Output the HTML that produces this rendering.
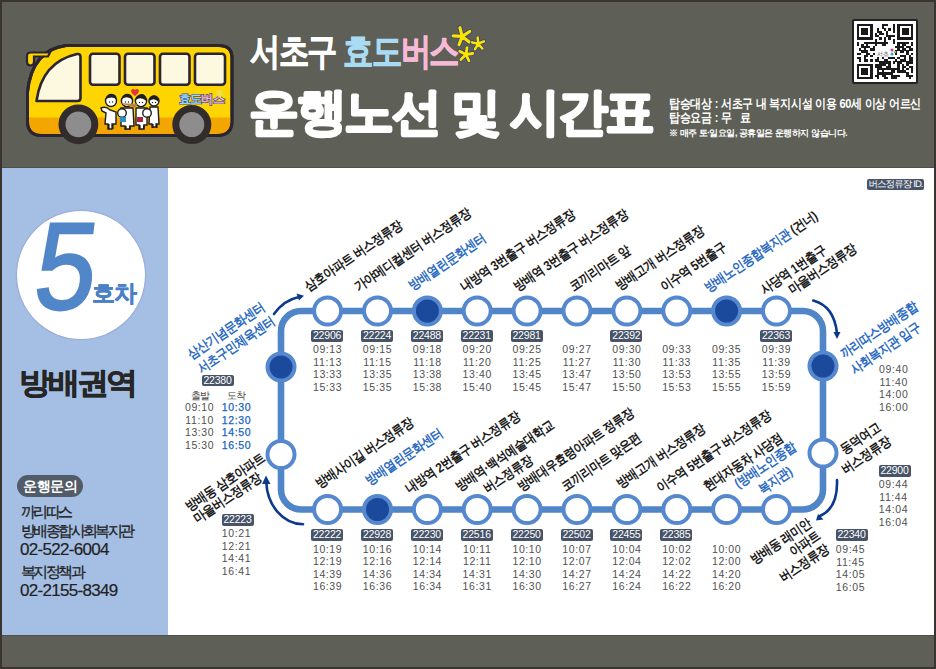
<!DOCTYPE html>
<html><head><meta charset="utf-8">
<style>
html,body{margin:0;padding:0;}
body{width:936px;height:669px;position:relative;overflow:hidden;background:#3a3431;font-family:"Liberation Sans",sans-serif;}
.abs{position:absolute;}
#hdr{position:absolute;left:2px;top:2px;width:932px;height:166px;background:#5e5f57;}
#ftr{position:absolute;left:2px;top:635px;width:932px;height:32px;background:#5e5f57;}
#side{position:absolute;left:2px;top:168px;width:166px;height:467px;background:#a5bfe4;}
#main{position:absolute;left:168px;top:168px;width:766px;height:467px;background:#fff;}
.id{position:absolute;width:32px;height:11.5px;background:#475468;color:#fff;font-size:10.5px;line-height:11.5px;text-align:center;border-radius:2px;letter-spacing:-0.2px;}
.t{position:absolute;width:50px;text-align:center;color:#505050;font-size:10.5px;line-height:12.5px;letter-spacing:0.6px;}
.lbl{position:absolute;white-space:nowrap;color:#1c1c1c;font-size:13.5px;line-height:14px;transform-origin:0 100%;transform:rotate(-34deg) scaleX(0.86);letter-spacing:-0.5px;font-weight:bold;text-rendering:geometricPrecision;}
.b{color:#2c6bc2;}
.k{font-size:15px;line-height:20px;color:#222;white-space:nowrap;-webkit-text-stroke:0.3px #222;}
.n{font-size:17px;line-height:20px;color:#222;white-space:nowrap;letter-spacing:-0.7px;-webkit-text-stroke:0.2px #222;}
</style></head><body>
<div id="hdr"></div>
<div class="abs" style="left:2px;top:166.5px;width:932px;height:1.5px;background:#4f5049"></div>
<svg class="abs" style="left:0;top:0" width="260" height="168" viewBox="0 0 260 168"><path d="M66 45.5 L219 45.5 Q232 45.5 232 58 L232 121 Q232 135.5 217 135.5 L42 135.5 Q27.5 135.5 27.5 121 L27.5 92 Q32 50 66 45.5 Z" fill="#fed500" stroke="#2a2530" stroke-width="3"/>
<path d="M29 117.5 L230.5 117.5 L230.5 121 Q230.5 134 217 134 L42 134 Q29 134 29 121 Z" fill="#f3a600"/>
<path d="M66 45.5 L219 45.5 Q232 45.5 232 58 L232 121 Q232 135.5 217 135.5 L42 135.5 Q27.5 135.5 27.5 121 L27.5 92 Q32 50 66 45.5 Z" fill="none" stroke="#2a2530" stroke-width="3"/>
<path d="M31 52.5 L50 52.5 L48 56.5 L34 56.5 L34 62 Q34 65.5 30.5 65.5 Q27 65.5 27 62 L27 56 Q27 52.5 31 52.5 Z" fill="#fed500" stroke="#2a2530" stroke-width="2.2"/>
<path d="M36.5 101 Q42 62 77 54 Q80.5 53.5 80.5 57 L80.5 98 Q80.5 101 77.5 101 Z" fill="#fdf8e0" stroke="#2a2530" stroke-width="2.6" stroke-linejoin="round"/>
<rect x="90" y="53.8" width="29.5" height="31" rx="3" fill="#fdf8e0" stroke="#2a2530" stroke-width="2.6"/>
<rect x="125" y="53.8" width="29.5" height="31" rx="3" fill="#fdf8e0" stroke="#2a2530" stroke-width="2.6"/>
<rect x="160" y="53.8" width="29.5" height="31" rx="3" fill="#fdf8e0" stroke="#2a2530" stroke-width="2.6"/>
<rect x="195" y="53.8" width="30" height="31" rx="3" fill="#fdf8e0" stroke="#2a2530" stroke-width="2.6"/>
<circle cx="78.4" cy="124.3" r="16.4" fill="#8d8d8d" stroke="#332c2c" stroke-width="7"/>
<circle cx="191.8" cy="124.6" r="16" fill="#8d8d8d" stroke="#332c2c" stroke-width="7"/>
<g stroke="#1e1e1e" stroke-width="1.4" fill="#fff">
<path d="M101 108 Q106 106 110 110 L116 112 L116 124 L112 124 L112 129 L108 129 L108 124 L105 124 L106 113 L102 111 Z"/>
<circle cx="111" cy="101" r="5.5"/>
<path d="M121 108 L133 108 L134 126 L130 126 L130 129 L125 129 L125 126 L121 126 Z"/>
<circle cx="127" cy="101" r="5.6"/>
<path d="M136 108 L147 108 L147 125 L144 125 L144 129 L139 129 L139 125 L136 125 Z" fill="#fff"/>
<circle cx="141" cy="101" r="5.6"/>
<path d="M150 107 L158 107 L159 124 L156 124 L156 127 L152 127 L152 124 L149 124 Z"/>
<circle cx="154" cy="101" r="5"/>
<circle cx="122" cy="113" r="4.3"/>
<circle cx="147" cy="113" r="4.3"/>
</g>
<path d="M120 117 L126 117 L126 122 L120 122 Z" fill="#2a8fd0"/>
<path d="M137 117 L143 117 L143 122 L137 122 Z" fill="#b02040"/>
<path d="M119 103 L136 108 L137 104 Z" fill="#c08040" stroke="none"/>
<g fill="#1e1e1e">
<path d="M105.5 99 Q107 93 113 94 Q117 95 116.5 99 Q112 96 105.5 99 Z"/>
<path d="M121.5 99 Q123 93 129 94 Q133 95 132.5 100 Q128 95 121.5 99 Z"/>
<path d="M135.5 100 Q137 93 143 94 Q147 96 146.5 101 Q141 96 135.5 100 Z"/>
<path d="M149.5 101 Q150 95 155 95.5 Q159 97 158.5 102 Q154 97 149.5 101 Z"/>
<rect x="108" y="124" width="1.6" height="5"/><rect x="112" y="124" width="1.6" height="5"/>
<rect x="125" y="126" width="1.6" height="4"/><rect x="129" y="126" width="1.6" height="4"/>
<rect x="139" y="125" width="1.6" height="4.5"/><rect x="143" y="125" width="1.6" height="4.5"/>
<rect x="152" y="124" width="1.6" height="4"/><rect x="156" y="124" width="1.6" height="4"/>
<circle cx="109.5" cy="102" r="0.7"/><circle cx="112.5" cy="102" r="0.7"/>
<circle cx="125.5" cy="102" r="0.7"/><circle cx="128.5" cy="102" r="0.7"/>
<circle cx="139.5" cy="102.5" r="0.7"/><circle cx="142.5" cy="102.5" r="0.7"/>
<circle cx="152.5" cy="102.5" r="0.7"/><circle cx="155.5" cy="102.5" r="0.7"/>
</g>
<path d="M131 90.5 Q133 88 135 90 Q137 88 139 90.5 Q139 93 135 96 Q131 93 131 90.5 Z" fill="#e8303a"/>
<text x="179" y="102.5" font-size="11.5" font-weight="bold" fill="#9ad6f5" stroke="#3a4a8a" stroke-width="1.4" paint-order="stroke" font-family="Liberation Sans" letter-spacing="-0.8">효도<tspan fill="#f5b0d4">버스</tspan></text>
<text x="216" y="97" font-size="10" fill="#f0e040" font-family="Liberation Sans" font-weight="bold">✱</text>
</svg>
<div class="abs" style="left:250px;top:29.5px;font-size:30px;line-height:36px;font-weight:bold;color:#fff;letter-spacing:-1.3px;white-space:nowrap;-webkit-text-stroke:0.6px #fff;transform:scaleY(1.22);transform-origin:0 0">서초구 <span style="color:#a9dcf4;-webkit-text-stroke:0.6px #a9dcf4">효도</span><span style="color:#f6b9d6;-webkit-text-stroke:0.6px #f6b9d6">버스</span></div>
<svg class="abs" style="left:0;top:0" width="500" height="80" viewBox="0 0 500 80"><path d="M462.2 36.4 L459.9 27.7 M462.2 36.4 L469.7 31.5 M462.2 36.4 L469.2 42.1 M462.2 36.4 L459.0 44.8 M462.2 36.4 L453.2 35.9 " stroke="#2a3a7a" stroke-width="4.4" stroke-linecap="round"/><path d="M462.2 36.4 L459.9 27.7 M462.2 36.4 L469.7 31.5 M462.2 36.4 L469.2 42.1 M462.2 36.4 L459.0 44.8 M462.2 36.4 L453.2 35.9 " stroke="#fde400" stroke-width="3.2" stroke-linecap="round"/><path d="M478.2 43.8 L477.7 37.6 M478.2 43.8 L483.9 41.4 M478.2 43.8 L482.3 48.5 M478.2 43.8 L475.0 49.1 M478.2 43.8 L472.2 42.4 " stroke="#2a3a7a" stroke-width="3.8" stroke-linecap="round"/><path d="M478.2 43.8 L477.7 37.6 M478.2 43.8 L483.9 41.4 M478.2 43.8 L482.3 48.5 M478.2 43.8 L475.0 49.1 M478.2 43.8 L472.2 42.4 " stroke="#fde400" stroke-width="2.6" stroke-linecap="round"/><path d="M465.9 54.5 L467.1 47.6 M465.9 54.5 L472.8 53.5 M465.9 54.5 L469.0 60.8 M465.9 54.5 L460.9 59.4 M465.9 54.5 L459.7 51.2 " stroke="#2a3a7a" stroke-width="4.0" stroke-linecap="round"/><path d="M465.9 54.5 L467.1 47.6 M465.9 54.5 L472.8 53.5 M465.9 54.5 L469.0 60.8 M465.9 54.5 L460.9 59.4 M465.9 54.5 L459.7 51.2 " stroke="#fde400" stroke-width="2.8" stroke-linecap="round"/></svg>
<svg class="abs" style="left:0;top:0" width="700" height="168" viewBox="0 0 700 168"><text x="249" y="129" font-family="Liberation Sans" font-size="50" font-weight="bold" fill="#fff" stroke="#fff" stroke-width="2.6" stroke-linejoin="round" letter-spacing="-2.4">운행노선 및 시간표</text></svg>
<div class="abs" style="left:669px;top:96.5px;font-size:13px;line-height:14.5px;font-weight:bold;color:#fff;white-space:nowrap;letter-spacing:-0.3px;transform:scaleX(0.845);transform-origin:0 0">탑승대상 : 서초구 내 복지시설 이용 60세 이상 어르신<br>탑승요금 : 무&nbsp;&nbsp; 료</div>
<div class="abs" style="left:669px;top:127px;font-size:9px;line-height:12px;color:#fff;white-space:nowrap;letter-spacing:-0.5px;font-weight:bold">※ 매주 토·일요일, 공휴일은 운행하지 않습니다.</div>
<div class="abs" style="left:852px;top:19px;width:66px;height:65px;background:#222;border-radius:2px"></div>
<svg class="abs" style="left:854px;top:21px" width="62" height="61" viewBox="0 0 62 61"><rect width="62" height="61" fill="#fff"/><g transform="translate(3,3) scale(2.24,2.2)" fill="#1a1a1a" shape-rendering="crispEdges"><rect x="0" y="0" width="7" height="1.06"/><rect x="11" y="0" width="3" height="1.06"/><rect x="16" y="0" width="1" height="1.06"/><rect x="18" y="0" width="7" height="1.06"/><rect x="0" y="1" width="1" height="1.06"/><rect x="6" y="1" width="1" height="1.06"/><rect x="11" y="1" width="1" height="1.06"/><rect x="16" y="1" width="1" height="1.06"/><rect x="18" y="1" width="1" height="1.06"/><rect x="24" y="1" width="1" height="1.06"/><rect x="0" y="2" width="1" height="1.06"/><rect x="2" y="2" width="3" height="1.06"/><rect x="6" y="2" width="1" height="1.06"/><rect x="9" y="2" width="1" height="1.06"/><rect x="12" y="2" width="1" height="1.06"/><rect x="14" y="2" width="1" height="1.06"/><rect x="16" y="2" width="1" height="1.06"/><rect x="18" y="2" width="1" height="1.06"/><rect x="20" y="2" width="3" height="1.06"/><rect x="24" y="2" width="1" height="1.06"/><rect x="0" y="3" width="1" height="1.06"/><rect x="2" y="3" width="3" height="1.06"/><rect x="6" y="3" width="1" height="1.06"/><rect x="9" y="3" width="2" height="1.06"/><rect x="13" y="3" width="1" height="1.06"/><rect x="16" y="3" width="1" height="1.06"/><rect x="18" y="3" width="1" height="1.06"/><rect x="20" y="3" width="3" height="1.06"/><rect x="24" y="3" width="1" height="1.06"/><rect x="0" y="4" width="1" height="1.06"/><rect x="2" y="4" width="3" height="1.06"/><rect x="6" y="4" width="1" height="1.06"/><rect x="8" y="4" width="1" height="1.06"/><rect x="10" y="4" width="2" height="1.06"/><rect x="13" y="4" width="1" height="1.06"/><rect x="18" y="4" width="1" height="1.06"/><rect x="20" y="4" width="3" height="1.06"/><rect x="24" y="4" width="1" height="1.06"/><rect x="0" y="5" width="1" height="1.06"/><rect x="6" y="5" width="1" height="1.06"/><rect x="8" y="5" width="2" height="1.06"/><rect x="13" y="5" width="4" height="1.06"/><rect x="18" y="5" width="1" height="1.06"/><rect x="24" y="5" width="1" height="1.06"/><rect x="0" y="6" width="7" height="1.06"/><rect x="10" y="6" width="1" height="1.06"/><rect x="12" y="6" width="1" height="1.06"/><rect x="14" y="6" width="1" height="1.06"/><rect x="18" y="6" width="7" height="1.06"/><rect x="8" y="7" width="1" height="1.06"/><rect x="12" y="7" width="1" height="1.06"/><rect x="16" y="7" width="1" height="1.06"/><rect x="0" y="8" width="1" height="1.06"/><rect x="3" y="8" width="11" height="1.06"/><rect x="16" y="8" width="1" height="1.06"/><rect x="18" y="8" width="5" height="1.06"/><rect x="24" y="8" width="1" height="1.06"/><rect x="0" y="9" width="1" height="1.06"/><rect x="2" y="9" width="1" height="1.06"/><rect x="4" y="9" width="1" height="1.06"/><rect x="8" y="9" width="1" height="1.06"/><rect x="11" y="9" width="2" height="1.06"/><rect x="18" y="9" width="1" height="1.06"/><rect x="20" y="9" width="2" height="1.06"/><rect x="24" y="9" width="1" height="1.06"/><rect x="2" y="10" width="4" height="1.06"/><rect x="7" y="10" width="1" height="1.06"/><rect x="17" y="10" width="4" height="1.06"/><rect x="22" y="10" width="2" height="1.06"/><rect x="1" y="11" width="1" height="1.06"/><rect x="3" y="11" width="1" height="1.06"/><rect x="6" y="11" width="2" height="1.06"/><rect x="18" y="11" width="1" height="1.06"/><rect x="20" y="11" width="2" height="1.06"/><rect x="23" y="11" width="2" height="1.06"/><rect x="2" y="12" width="3" height="1.06"/><rect x="17" y="12" width="1" height="1.06"/><rect x="19" y="12" width="2" height="1.06"/><rect x="22" y="12" width="1" height="1.06"/><rect x="0" y="13" width="2" height="1.06"/><rect x="4" y="13" width="2" height="1.06"/><rect x="7" y="13" width="1" height="1.06"/><rect x="17" y="13" width="1" height="1.06"/><rect x="22" y="13" width="1" height="1.06"/><rect x="24" y="13" width="1" height="1.06"/><rect x="3" y="14" width="2" height="1.06"/><rect x="6" y="14" width="1" height="1.06"/><rect x="19" y="14" width="3" height="1.06"/><rect x="23" y="14" width="1" height="1.06"/><rect x="0" y="15" width="2" height="1.06"/><rect x="3" y="15" width="1" height="1.06"/><rect x="9" y="15" width="1" height="1.06"/><rect x="11" y="15" width="1" height="1.06"/><rect x="14" y="15" width="3" height="1.06"/><rect x="18" y="15" width="1" height="1.06"/><rect x="21" y="15" width="1" height="1.06"/><rect x="23" y="15" width="2" height="1.06"/><rect x="1" y="16" width="1" height="1.06"/><rect x="3" y="16" width="2" height="1.06"/><rect x="6" y="16" width="1" height="1.06"/><rect x="8" y="16" width="2" height="1.06"/><rect x="12" y="16" width="2" height="1.06"/><rect x="17" y="16" width="1" height="1.06"/><rect x="19" y="16" width="3" height="1.06"/><rect x="23" y="16" width="2" height="1.06"/><rect x="10" y="17" width="5" height="1.06"/><rect x="16" y="17" width="1" height="1.06"/><rect x="18" y="17" width="2" height="1.06"/><rect x="22" y="17" width="3" height="1.06"/><rect x="0" y="18" width="7" height="1.06"/><rect x="8" y="18" width="5" height="1.06"/><rect x="14" y="18" width="1" height="1.06"/><rect x="18" y="18" width="1" height="1.06"/><rect x="20" y="18" width="1" height="1.06"/><rect x="22" y="18" width="1" height="1.06"/><rect x="0" y="19" width="1" height="1.06"/><rect x="6" y="19" width="1" height="1.06"/><rect x="8" y="19" width="3" height="1.06"/><rect x="13" y="19" width="2" height="1.06"/><rect x="18" y="19" width="1" height="1.06"/><rect x="20" y="19" width="2" height="1.06"/><rect x="23" y="19" width="2" height="1.06"/><rect x="0" y="20" width="1" height="1.06"/><rect x="2" y="20" width="3" height="1.06"/><rect x="6" y="20" width="1" height="1.06"/><rect x="9" y="20" width="10" height="1.06"/><rect x="20" y="20" width="1" height="1.06"/><rect x="22" y="20" width="1" height="1.06"/><rect x="24" y="20" width="1" height="1.06"/><rect x="0" y="21" width="1" height="1.06"/><rect x="2" y="21" width="3" height="1.06"/><rect x="6" y="21" width="1" height="1.06"/><rect x="9" y="21" width="1" height="1.06"/><rect x="11" y="21" width="1" height="1.06"/><rect x="15" y="21" width="2" height="1.06"/><rect x="18" y="21" width="4" height="1.06"/><rect x="24" y="21" width="1" height="1.06"/><rect x="0" y="22" width="1" height="1.06"/><rect x="2" y="22" width="3" height="1.06"/><rect x="6" y="22" width="1" height="1.06"/><rect x="9" y="22" width="7" height="1.06"/><rect x="22" y="22" width="1" height="1.06"/><rect x="0" y="23" width="1" height="1.06"/><rect x="6" y="23" width="1" height="1.06"/><rect x="8" y="23" width="2" height="1.06"/><rect x="11" y="23" width="2" height="1.06"/><rect x="15" y="23" width="4" height="1.06"/><rect x="22" y="23" width="3" height="1.06"/><rect x="0" y="24" width="7" height="1.06"/><rect x="9" y="24" width="1" height="1.06"/><rect x="12" y="24" width="2" height="1.06"/><rect x="15" y="24" width="3" height="1.06"/><rect x="23" y="24" width="1" height="1.06"/></g><text x="23" y="35" font-size="6" fill="#555" font-family="Liberation Sans">서초</text><circle cx="38" cy="29" r="1.5" fill="#e0308a"/><circle cx="38" cy="33" r="1.5" fill="#30a0e0"/><circle cx="41" cy="31" r="1.3" fill="#90c030"/></svg>

<div id="side"></div>
<div class="abs" style="left:17px;top:211px;width:128px;height:128px;border-radius:50%;background:#fff;box-shadow:0 0 1.5px 0.3px #8088c0"></div>
<div class="abs" style="left:29px;top:204px;font-size:124px;line-height:124px;font-weight:normal;color:#5186c8;-webkit-text-stroke:2.4px #5186c8;transform:skewX(-7deg) scaleX(0.88);transform-origin:0 100%">5</div>
<div class="abs" style="left:92px;top:279px;font-size:23px;line-height:28px;font-weight:bold;color:#4a80c6;letter-spacing:-1px;-webkit-text-stroke:0.5px #4a80c6">호차</div>
<div class="abs" style="left:19px;top:364.5px;font-size:30px;line-height:36px;font-weight:bold;color:#262626;letter-spacing:-3px;-webkit-text-stroke:0.6px #262626;transform:scaleX(1.07);transform-origin:0 0">방배권역</div>
<div class="abs" style="left:17px;top:475px;width:66px;height:22px;border-radius:11px;background:#525b68;color:#fff;font-size:14px;line-height:22px;text-align:center;font-weight:bold;letter-spacing:-0.5px">운행문의</div>
<div class="abs k" style="left:21px;top:502px;letter-spacing:-2.6px">까리따스</div>
<div class="abs k" style="left:21px;top:520.5px;letter-spacing:-2.6px">방배종합사회복지관</div>
<div class="abs n" style="left:20px;top:539.5px;">02-522-6004</div>
<div class="abs k" style="left:21px;top:562px;letter-spacing:-2.6px">복지정책과</div>
<div class="abs n" style="left:20px;top:580.5px;">02-2155-8349</div>

<div id="main"></div>
<div id="ftr"></div>
<div class="abs" style="left:2px;top:634.5px;width:932px;height:1.2px;background:#4f5049"></div>
<svg class="abs" style="left:0;top:0" width="936" height="669" viewBox="0 0 936 669">
<path d="M281 331 A20 20 0 0 1 301 311 L803 311 A20 20 0 0 1 823 331 L823 489.5 A20 20 0 0 1 803 509.5 L301 509.5 A20 20 0 0 1 281 489.5 Z" fill="none" stroke="#5085c8" stroke-width="6.6"/>
<circle cx="327.6" cy="311" r="13.5" fill="#fff" stroke="#5588cf" stroke-width="4"/>
<circle cx="377.5" cy="311" r="13.5" fill="#fff" stroke="#5588cf" stroke-width="4"/>
<circle cx="427.4" cy="311" r="13.5" fill="#1b4a9c" stroke="#5588cf" stroke-width="4"/>
<circle cx="477.2" cy="311" r="13.5" fill="#fff" stroke="#5588cf" stroke-width="4"/>
<circle cx="527.1" cy="311" r="13.5" fill="#fff" stroke="#5588cf" stroke-width="4"/>
<circle cx="577.0" cy="311" r="13.5" fill="#fff" stroke="#5588cf" stroke-width="4"/>
<circle cx="626.9" cy="311" r="13.5" fill="#fff" stroke="#5588cf" stroke-width="4"/>
<circle cx="676.8" cy="311" r="13.5" fill="#fff" stroke="#5588cf" stroke-width="4"/>
<circle cx="726.6" cy="311" r="13.5" fill="#1b4a9c" stroke="#5588cf" stroke-width="4"/>
<circle cx="776.5" cy="311" r="13.5" fill="#fff" stroke="#5588cf" stroke-width="4"/>
<circle cx="327.6" cy="509.5" r="13.5" fill="#fff" stroke="#5588cf" stroke-width="4"/>
<circle cx="377.5" cy="509.5" r="13.5" fill="#1b4a9c" stroke="#5588cf" stroke-width="4"/>
<circle cx="427.4" cy="509.5" r="13.5" fill="#fff" stroke="#5588cf" stroke-width="4"/>
<circle cx="477.2" cy="509.5" r="13.5" fill="#fff" stroke="#5588cf" stroke-width="4"/>
<circle cx="527.1" cy="509.5" r="13.5" fill="#fff" stroke="#5588cf" stroke-width="4"/>
<circle cx="577.0" cy="509.5" r="13.5" fill="#fff" stroke="#5588cf" stroke-width="4"/>
<circle cx="626.9" cy="509.5" r="13.5" fill="#fff" stroke="#5588cf" stroke-width="4"/>
<circle cx="676.8" cy="509.5" r="13.5" fill="#fff" stroke="#5588cf" stroke-width="4"/>
<circle cx="726.6" cy="509.5" r="13.5" fill="#fff" stroke="#5588cf" stroke-width="4"/>
<circle cx="776.5" cy="509.5" r="13.5" fill="#fff" stroke="#5588cf" stroke-width="4"/>
<circle cx="281.0" cy="367" r="13.5" fill="#1b4a9c" stroke="#5588cf" stroke-width="4"/>
<circle cx="281.0" cy="454.5" r="13.5" fill="#fff" stroke="#5588cf" stroke-width="4"/>
<circle cx="823.0" cy="366" r="13.5" fill="#1b4a9c" stroke="#5588cf" stroke-width="4"/>
<circle cx="823.0" cy="453" r="13.5" fill="#fff" stroke="#5588cf" stroke-width="4"/>
<path d="M274 314 Q284 300 299 297" fill="none" stroke="#0b3a8d" stroke-width="2.6" stroke-linecap="round"/><path d="M304 295.7 L296.5 293.5 L299 300.5 Z" fill="#0b3a8d"/>
<path d="M813.2 300.5 Q834 306 837 333" fill="none" stroke="#0b3a8d" stroke-width="2.6" stroke-linecap="round"/><path d="M837 339 L833.5 332 L840.5 332 Z" fill="#0b3a8d"/>
<path d="M837 480 Q838 508 820 516" fill="none" stroke="#0b3a8d" stroke-width="2.6" stroke-linecap="round"/><path d="M816 520.5 L818 514 L823.5 519.5 Z" fill="#0b3a8d"/>
<path d="M303 524.3 A37 44 0 0 1 266.3 482" fill="none" stroke="#0b3a8d" stroke-width="2.6" stroke-linecap="round"/><path d="M266 475.5 L262 484 L270.5 484 Z" fill="#0b3a8d"/>
</svg>
<div class="id" style="left:311.1px;top:330.3px">22906</div>
<div class="t" style="left:302.6px;top:343px">09:13<br>11:13<br>13:33<br>15:33</div>
<div class="id" style="left:361.0px;top:330.3px">22224</div>
<div class="t" style="left:352.5px;top:343px">09:15<br>11:15<br>13:35<br>15:35</div>
<div class="id" style="left:410.9px;top:330.3px">22488</div>
<div class="t" style="left:402.4px;top:343px">09:18<br>11:18<br>13:38<br>15:38</div>
<div class="id" style="left:460.7px;top:330.3px">22231</div>
<div class="t" style="left:452.2px;top:343px">09:20<br>11:20<br>13:40<br>15:40</div>
<div class="id" style="left:510.6px;top:330.3px">22981</div>
<div class="t" style="left:502.1px;top:343px">09:25<br>11:25<br>13:45<br>15:45</div>
<div class="t" style="left:552.0px;top:343px">09:27<br>11:27<br>13:47<br>15:47</div>
<div class="id" style="left:610.4px;top:330.3px">22392</div>
<div class="t" style="left:601.9px;top:343px">09:30<br>11:30<br>13:50<br>15:50</div>
<div class="t" style="left:651.8px;top:343px">09:33<br>11:33<br>13:53<br>15:53</div>
<div class="t" style="left:701.6px;top:343px">09:35<br>11:35<br>13:55<br>15:55</div>
<div class="id" style="left:760.0px;top:330.3px">22363</div>
<div class="t" style="left:751.5px;top:343px">09:39<br>11:39<br>13:59<br>15:59</div>
<div class="id" style="left:311.1px;top:529.3px">22222</div>
<div class="t" style="left:302.6px;top:542.5px">10:19<br>12:19<br>14:39<br>16:39</div>
<div class="id" style="left:361.0px;top:529.3px">22928</div>
<div class="t" style="left:352.5px;top:542.5px">10:16<br>12:16<br>14:36<br>16:36</div>
<div class="id" style="left:410.9px;top:529.3px">22230</div>
<div class="t" style="left:402.4px;top:542.5px">10:14<br>12:14<br>14:34<br>16:34</div>
<div class="id" style="left:460.7px;top:529.3px">22516</div>
<div class="t" style="left:452.2px;top:542.5px">10:11<br>12:11<br>14:31<br>16:31</div>
<div class="id" style="left:510.6px;top:529.3px">22250</div>
<div class="t" style="left:502.1px;top:542.5px">10:10<br>12:10<br>14:30<br>16:30</div>
<div class="id" style="left:560.5px;top:529.3px">22502</div>
<div class="t" style="left:552.0px;top:542.5px">10:07<br>12:07<br>14:27<br>16:27</div>
<div class="id" style="left:610.4px;top:529.3px">22455</div>
<div class="t" style="left:601.9px;top:542.5px">10:04<br>12:04<br>14:24<br>16:24</div>
<div class="id" style="left:660.3px;top:529.3px">22385</div>
<div class="t" style="left:651.8px;top:542.5px">10:02<br>12:02<br>14:22<br>16:22</div>
<div class="t" style="left:701.6px;top:542.5px">10:00<br>12:00<br>14:20<br>16:20</div>
<div class="lbl" style="left:310.4px;top:280.3px">삼호아파트 버스정류장</div>
<div class="lbl" style="left:360.4px;top:280.3px">가야메디컬센터 버스정류장</div>
<div class="lbl b" style="left:414.0px;top:279.0px">방배열린문화센터</div>
<div class="lbl" style="left:466.4px;top:280.4px">내방역 3번출구 버스정류장</div>
<div class="lbl" style="left:518.7px;top:280.4px">방배역 3번출구 버스정류장</div>
<div class="lbl" style="left:575.3px;top:280.4px">코끼리마트 앞</div>
<div class="lbl" style="left:621.0px;top:279.4px">방배고개 버스정류장</div>
<div class="lbl" style="left:666.0px;top:280.4px">이수역 5번출구</div>
<div class="lbl" style="left:710.4px;top:280.8px"><span class="b">방배노인종합복지관</span> (건너)</div>
<div class="lbl" style="left:765.8px;top:282.6px">사당역 1번출구</div>
<div class="lbl" style="left:793.5px;top:282.8px">마을버스정류장</div>
<div class="lbl" style="left:321.0px;top:476.5px">방배사이길 버스정류장</div>
<div class="lbl b" style="left:371.2px;top:474.4px">방배열린문화센터</div>
<div class="lbl" style="left:410.8px;top:481.9px">내방역 2번출구 버스정류장</div>
<div class="lbl" style="left:461.0px;top:480.4px">방배역·백석예술대학교</div>
<div class="lbl" style="left:488.8px;top:482.1px">버스정류장</div>
<div class="lbl" style="left:523.0px;top:480.4px">방배대우효령아파트 정류장</div>
<div class="lbl" style="left:566.8px;top:480.4px">코끼리마트 맞은편</div>
<div class="lbl" style="left:622.0px;top:476.5px">방배고개 버스정류장</div>
<div class="lbl" style="left:661.6px;top:480.8px">이수역 5번출구 버스정류장</div>
<div class="lbl" style="left:708.6px;top:479.7px">현대자동차 사당점</div>
<div class="lbl b" style="left:740.0px;top:477.0px">(방배노인종합</div>
<div class="lbl b" style="left:763.5px;top:483.0px">복지관)</div>
<div class="lbl b" style="left:192.5px;top:348.0px">삼산기념문화센터</div>
<div class="lbl b" style="left:203.0px;top:361.5px">서초구민체육센터</div>
<div class="lbl" style="left:190.6px;top:499.5px">방배동 삼호아파트</div>
<div class="lbl" style="left:198.5px;top:512.3px">마을버스정류장</div>
<div class="lbl b" style="left:845.8px;top:346.9px">까리따스방배종합</div>
<div class="lbl b" style="left:856.3px;top:362.7px">사회복지관 입구</div>
<div class="lbl" style="left:846.3px;top:442.6px">동덕여고</div>
<div class="lbl" style="left:847.3px;top:462.5px">버스정류장</div>
<div class="lbl" style="left:755.8px;top:552.5px">방배동 래미안</div>
<div class="lbl" style="left:794.8px;top:545.0px">아파트</div>
<div class="lbl" style="left:785.4px;top:571.3px">버스정류장</div>
<div class="id" style="left:201.5px;top:374.7px">22380</div>
<div class="abs" style="left:190.5px;top:388.5px;font-size:10px;line-height:13px;color:#444;letter-spacing:-0.6px;white-space:nowrap">출발</div>
<div class="abs" style="left:227px;top:388.5px;font-size:10px;line-height:13px;color:#444;letter-spacing:-0.6px;white-space:nowrap">도착</div>
<div class="t" style="left:174.6px;top:401px">09:10<br>11:10<br>13:30<br>15:30</div>
<div class="t" style="left:211.5px;top:401px;color:#1565c0;-webkit-text-stroke:0.25px #1565c0">10:30<br>12:30<br>14:50<br>16:50</div>
<div class="id" style="left:221.5px;top:514px">22223</div>
<div class="t" style="left:211.5px;top:527px">10:21<br>12:21<br>14:41<br>16:41</div>
<div class="t" style="left:868.7px;top:363px">09:40<br>11:40<br>14:00<br>16:00</div>
<div class="id" style="left:878.5px;top:465px">22900</div>
<div class="t" style="left:868.5px;top:478px">09:44<br>11:44<br>14:04<br>16:04</div>
<div class="id" style="left:835.5px;top:529px">22340</div>
<div class="t" style="left:825.5px;top:543px">09:45<br>11:45<br>14:05<br>16:05</div>
<div class="abs" style="left:867px;top:178.5px;width:57px;height:11.5px;background:#475468;border-radius:2px;color:#fff;font-size:9.5px;line-height:11.5px;text-align:center;letter-spacing:-0.9px;white-space:nowrap;font-weight:normal;text-rendering:geometricPrecision">버스정류장 ID.</div>
</body></html>
